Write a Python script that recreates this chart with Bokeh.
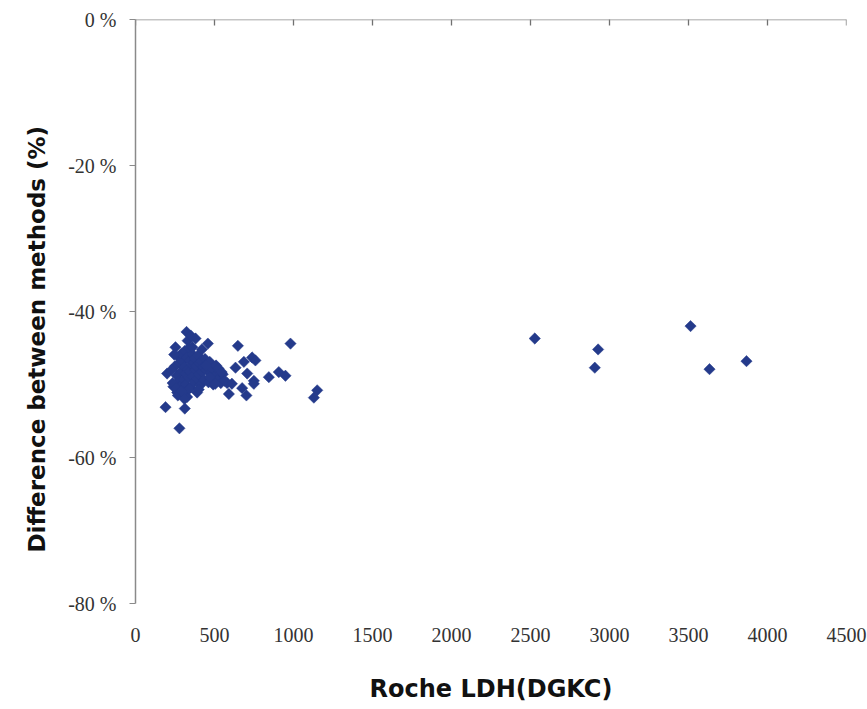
from bokeh.plotting import figure
from bokeh.models import Range1d, FixedTicker, LinearAxis, Span, Title
from bokeh.embed import file_html
from bokeh.resources import INLINE

# Roche LDH (DGKC) values and difference between methods (%)
ldh = [
    190, 278, 312, 323, 253, 380, 458, 648, 981, 738, 759, 686, 633, 707, 844, 907, 949,
    749, 749, 675, 702, 591, 580, 1150, 1129, 390, 327, 264, 200, 240, 330,
    250, 262, 270, 275, 280, 285, 290, 295, 300, 305, 310, 312, 318, 320, 325, 330,
    335, 338, 342, 345, 350, 355, 360, 362, 368, 372, 375, 380, 385, 390, 395, 400,
    405, 410, 415, 420, 428, 435, 440, 448, 455, 462, 470, 478, 485, 492, 500, 510,
    520, 530, 540, 552, 565, 228, 235, 245, 258, 268, 300, 340, 360, 420, 470, 505,
    350, 310, 290, 400, 445, 525, 545, 610,
    2527, 2907, 2928, 3513, 3633, 3867,
]
diff = [
    -53.1, -56.0, -53.3, -42.8, -44.9, -43.7, -44.4, -44.7, -44.4, -46.3, -46.7, -46.9, -47.7, -48.5, -49.0, -48.3, -48.8,
    -49.5, -49.9, -50.5, -51.5, -51.3, -49.8, -50.8, -51.8, -51.1, -51.7, -51.1, -48.5, -50.3, -44.0,
    -47.5, -48.8, -46.2, -49.5, -47.0, -50.2, -45.8, -48.1, -46.9, -49.3, -47.6, -45.4, -48.5, -50.0, -46.3, -47.9,
    -49.0, -45.0, -48.2, -46.7, -50.4, -47.3, -48.9, -45.9, -47.0, -49.6, -46.4, -48.0, -47.5, -49.2, -46.0, -48.6,
    -47.1, -50.1, -46.8, -48.3, -47.6, -49.4, -46.5, -48.0, -47.2, -49.7, -46.9, -48.4, -47.8, -50.0, -48.9, -47.4,
    -49.3, -48.1, -49.8, -48.6, -49.5, -48.0, -49.8, -45.9, -50.5, -51.5, -51.0, -50.6, -44.9, -45.2, -49.0, -49.9,
    -43.3, -52.0, -50.9, -50.7, -47.4, -47.8, -48.3, -49.9,
    -43.7, -47.7, -45.2, -42.0, -47.9, -46.8,
]

x_ticks = [0, 500, 1000, 1500, 2000, 2500, 3000, 3500, 4000, 4500]
y_ticks = [0, -20, -40, -60, -80]
y_tick_labels = ["0 %", "-20 %", "-40 %", "-60 %", "-80 %"]
x_title = "Roche LDH(DGKC)"
y_title = "Difference between methods (%)"

p = figure(width=867, height=709, output_backend="svg", toolbar_location=None,
           x_range=Range1d(0, 4500), y_range=Range1d(-80, 0),
           min_border_left=135, min_border_right=21, min_border_top=19, min_border_bottom=106,
           x_axis_location=None, y_axis_location=None)
p.xgrid.visible = False
p.ygrid.visible = False
p.outline_line_color = None
p.background_fill_color = "white"
p.border_fill_color = "white"

axis_grey = "#8a8a8a"
label_col = "#333333"
title_col = "#111111"

# Bottom axis: labels and title, no line
xb = LinearAxis(ticker=FixedTicker(ticks=x_ticks), axis_label=x_title)
xb.axis_line_color = None
xb.major_tick_line_color = None
xb.minor_tick_line_color = None
xb.major_label_standoff = 18
xb.major_label_text_font = "Liberation Serif"
xb.major_label_text_font_size = "20px"
xb.major_label_text_color = label_col
xb.axis_label_text_font = "DejaVu Sans"
xb.axis_label_text_font_style = "bold"
xb.axis_label_text_font_size = "24px"
xb.axis_label_text_color = title_col
xb.axis_label_standoff = 30
p.add_layout(xb, "below")

# Top line at y = 0 with short inward tick marks
p.add_layout(Span(location=0, dimension="width", line_color=axis_grey, line_width=1.5))
p.scatter(x_ticks, [0] * len(x_ticks), marker="dash", angle=1.5708, size=12,
          line_color="#707070", line_width=1.3)

# Left axis
yl = LinearAxis(ticker=FixedTicker(ticks=y_ticks))
yl.major_label_overrides = {t: s for t, s in zip(y_ticks, y_tick_labels)}
yl.axis_line_color = axis_grey
yl.axis_line_width = 1.5
yl.major_tick_line_color = axis_grey
yl.major_tick_in = 0
yl.major_tick_out = 6
yl.minor_tick_line_color = None
yl.major_label_standoff = 13
yl.major_label_text_font = "Liberation Serif"
yl.major_label_text_font_size = "20px"
yl.major_label_text_color = label_col
p.add_layout(yl, "left")

# Y title as a Title so it can be shifted along the axis like the reference
p.add_layout(Title(text=y_title, align="left", offset=51, standoff=31,
                   text_font="DejaVu Sans", text_font_style="bold", text_font_size="23px",
                   text_color=title_col), "left")

p.scatter(ldh, diff, marker="square", size=8, angle=0.785398,
          fill_color="#243a8b", line_color="#243a8b", line_width=0.5)

open("out.html", "w").write(file_html(p, INLINE))
